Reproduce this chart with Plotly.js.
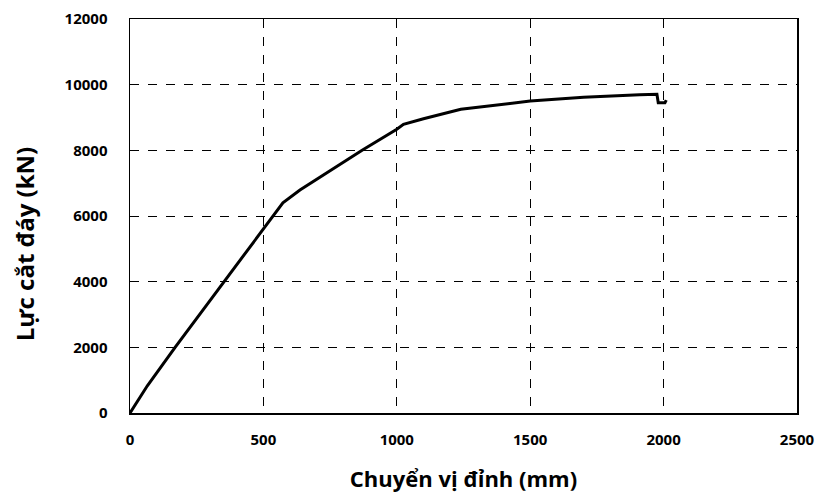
<!DOCTYPE html>
<html>
<head>
<meta charset="utf-8">
<script src="https://cdn.plot.ly/plotly-3.0.1.min.js"></script>
<style>html,body{margin:0;padding:0;background:#fff;}#chart{width:836px;height:495px;}</style>
</head>
<body>
<div id="chart"></div>
<script>
// Displacement at top (mm)
const displacement = [0, 65, 169, 352, 536, 573, 637, 870, 1000, 1025, 1100, 1240, 1500, 1700, 1910, 1975, 1980, 2005, 2010];
// Base shear (kN)
const baseShear = [0, 830, 2000, 4000, 6000, 6400, 6790, 8000, 8640, 8790, 8960, 9250, 9500, 9620, 9690, 9710, 9450, 9450, 9530];
const xTicks = [0, 500, 1000, 1500, 2000, 2500];
const yTicks = [0, 2000, 4000, 6000, 8000, 10000, 12000];
const xTitle = 'Chuyển vị đỉnh (mm)';
const yTitle = 'Lực cắt đáy (kN)';

const FONT = '"Open Sans", "Noto Sans", sans-serif';

const trace = {
  x: displacement,
  y: baseShear,
  type: 'scatter',
  mode: 'lines',
  line: {color: '#000000', width: 3},
  hoverinfo: 'skip'
};

const axisCommon = {
  showline: true,
  mirror: true,
  linecolor: '#000000',
  linewidth: 1.5,
  showgrid: true,
  gridcolor: '#000000',
  gridwidth: 1,
  griddash: 'dash',
  zeroline: false,
  ticks: '',
  tickfont: {family: FONT, size: 15, color: '#000000', weight: 'bold'}
};

const layout = {
  width: 836,
  height: 495,
  margin: {l: 130, r: 39, t: 19, b: 82},
  paper_bgcolor: '#ffffff',
  plot_bgcolor: '#ffffff',
  showlegend: false,
  xaxis: Object.assign({}, axisCommon, {
    range: [0, 2500],
    tickvals: xTicks,
    ticktext: xTicks.map(String),
    ticklabelstandoff: 12,
    title: {text: xTitle, font: {family: FONT, size: 22, color: '#000000', weight: 'bold'}, standoff: 24}
  }),
  yaxis: Object.assign({}, axisCommon, {
    range: [0, 12000],
    tickvals: yTicks,
    ticktext: yTicks.map(String),
    ticklabelstandoff: 18
  }),
  annotations: [{
    text: yTitle,
    xref: 'paper', yref: 'paper',
    x: -0.157, y: 0.429,
    xanchor: 'center', yanchor: 'middle',
    textangle: -90,
    showarrow: false,
    font: {family: FONT, size: 24, color: '#000000', weight: 'bold'}
  }]
};

Plotly.newPlot('chart', [trace], layout, {staticPlot: true, displayModeBar: false});
</script>
</body>
</html>
